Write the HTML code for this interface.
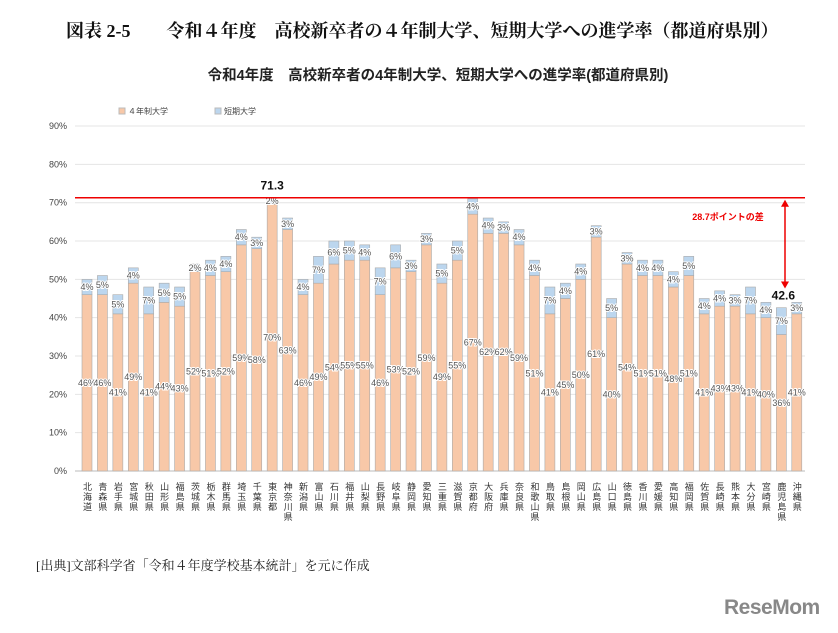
<!DOCTYPE html>
<html><head><meta charset="utf-8"><style>
body{margin:0;background:#fff;width:838px;height:633px;overflow:hidden;position:relative;font-family:"Liberation Sans","Noto Sans CJK JP",sans-serif}
#title{position:absolute;left:66px;top:17px;font-family:"Liberation Serif","Noto Serif CJK SC",serif;font-size:18px;color:#111;white-space:pre;font-weight:bold}
#src{position:absolute;left:36px;top:555px;font-family:"Liberation Serif","Noto Serif CJK SC",serif;font-size:13px;color:#222;white-space:pre}
#logo{position:absolute;left:724px;top:596px;font-size:21px;font-weight:bold;color:#888;letter-spacing:-0.5px}
</style></head><body>
<div id="title">図表 2-5　　令和４年度　高校新卒者の４年制大学、短期大学への進学率（都道府県別）</div>
<svg id="chart" width="838" height="633" style="position:absolute;left:0;top:0"></svg>
<div id="src">[出典]文部科学省「令和４年度学校基本統計」を元に作成</div>
<div id="logo">ReseMom</div>
<script>
const categories=["北海道","青森県","岩手県","宮城県","秋田県","山形県","福島県","茨城県","栃木県","群馬県","埼玉県","千葉県","東京都","神奈川県","新潟県","富山県","石川県","福井県","山梨県","長野県","岐阜県","静岡県","愛知県","三重県","滋賀県","京都府","大阪府","兵庫県","奈良県","和歌山県","鳥取県","島根県","岡山県","広島県","山口県","徳島県","香川県","愛媛県","高知県","福岡県","佐賀県","長崎県","熊本県","大分県","宮崎県","鹿児島県","沖縄県"];
const univ=[46,46,41,49,41,44,43,52,51,52,59,58,69.6,63,46,49,54,55,55,46,53,52,59,49,55,67,62,62,59,51,41,45,50,61,40,54,51,51,48,51,41,43,43,41,40,35.6,41];
const junior=[4,5,5,4,7,5,5,2,4,4,4,3,1.7,3,4,7,6,5,4,7,6,3,3,5,5,4,4,3,4,4,7,4,4,3,5,3,4,4,4,5,4,4,3,7,4,7,3];
const yTicks=[0,10,20,30,40,50,60,70,80,90];
const maxVal=71.3, minVal=42.6;
const svg=document.getElementById('chart');const NS='http://www.w3.org/2000/svg';
const y0=471,pxPer=3.833,x0=87,step=15.43,bw=10;
const Y=v=>y0-v*pxPer, X=i=>x0+i*step;
function mk(t,a,txt){const e=document.createElementNS(NS,t);for(const k in a)e.setAttribute(k,a[k]);if(txt!==undefined)e.textContent=txt;svg.appendChild(e);return e;}
let e;
e=mk('text',{x:438,y:80,'text-anchor':'middle','font-size':14.5,'font-weight':'bold',fill:'#222'},'令和4年度　高校新卒者の4年制大学、短期大学への進学率(都道府県別)');


yTicks.forEach(t=>{
 e=mk('line',{x1:75,x2:805,y1:Y(t),y2:Y(t),stroke:t?'#e4e4e4':'#bbb','stroke-width':1});
 
 
 e=mk('text',{x:67,y:Y(t)+3,'text-anchor':'end','font-size':9,fill:'#444'},t+'%');
 
 
});
e=mk('rect',{x:119,y:108,width:6,height:6,fill:'#f8c8a8',stroke:'#bbb'});


e=mk('text',{x:128,y:114,'font-size':8,fill:'#444'},'４年制大学');


e=mk('rect',{x:215,y:108,width:6,height:6,fill:'#bcd6ee',stroke:'#bbb'});


e=mk('text',{x:224,y:114,'font-size':8,fill:'#444'},'短期大学');


categories.forEach((c,i)=>{
 const u=univ[i],j=junior[i],x=X(i)-bw/2;
 e=mk('rect',{x:x,y:Y(u),width:bw,height:u*pxPer,fill:'#f8c8a8',stroke:'#aaa','stroke-width':0.6});
 
 
 e=mk('rect',{x:x,y:Y(u+j),width:bw,height:j*pxPer,fill:'#bcd6ee',stroke:'#aaa','stroke-width':0.6});
 
 
 e=mk('text',{x:X(i),y:Y(u/2)+3,'text-anchor':'middle','font-size':9,fill:'#555',stroke:'#fff','stroke-width':2,'paint-order':'stroke'},Math.round(u)+'%');
 
 
 e=mk('text',{x:X(i),y:Y(u+j/2)+3,'text-anchor':'middle','font-size':9,fill:'#555',stroke:'#fff','stroke-width':2,'paint-order':'stroke'},Math.round(j)+'%');
 
 
 e=mk('text',{x:X(i),y:482,'font-size':9,fill:'#333',style:'writing-mode:vertical-rl;letter-spacing:1px'},c);
 
 
});
e=mk('line',{x1:75,x2:805,y1:Y(maxVal),y2:Y(maxVal),stroke:'#e00','stroke-width':1.5});


e=mk('text',{x:X(12),y:Y(maxVal)-8,'text-anchor':'middle','font-size':12,'font-weight':'bold',fill:'#111'},String(maxVal));


e=mk('text',{x:X(45)+2,y:Y(minVal+2.2),'text-anchor':'middle','font-size':12,'font-weight':'bold',fill:'#111'},String(minVal));


const ax=785,ya=Y(maxVal)+2,yb=Y(minVal+5);
e=mk('line',{x1:ax,x2:ax,y1:ya+5,y2:yb-5,stroke:'#e00','stroke-width':1.5});


mk('polygon',{points:`${ax-4},${ya+7} ${ax+4},${ya+7} ${ax},${ya}`,fill:'#e00'});
mk('polygon',{points:`${ax-4},${yb-7} ${ax+4},${yb-7} ${ax},${yb}`,fill:'#e00'});
e=mk('text',{x:728,y:220,'text-anchor':'middle','font-size':9,'font-weight':'bold',fill:'#e00'},(maxVal-minVal).toFixed(1)+'ポイントの差');


</script>
</body></html>
